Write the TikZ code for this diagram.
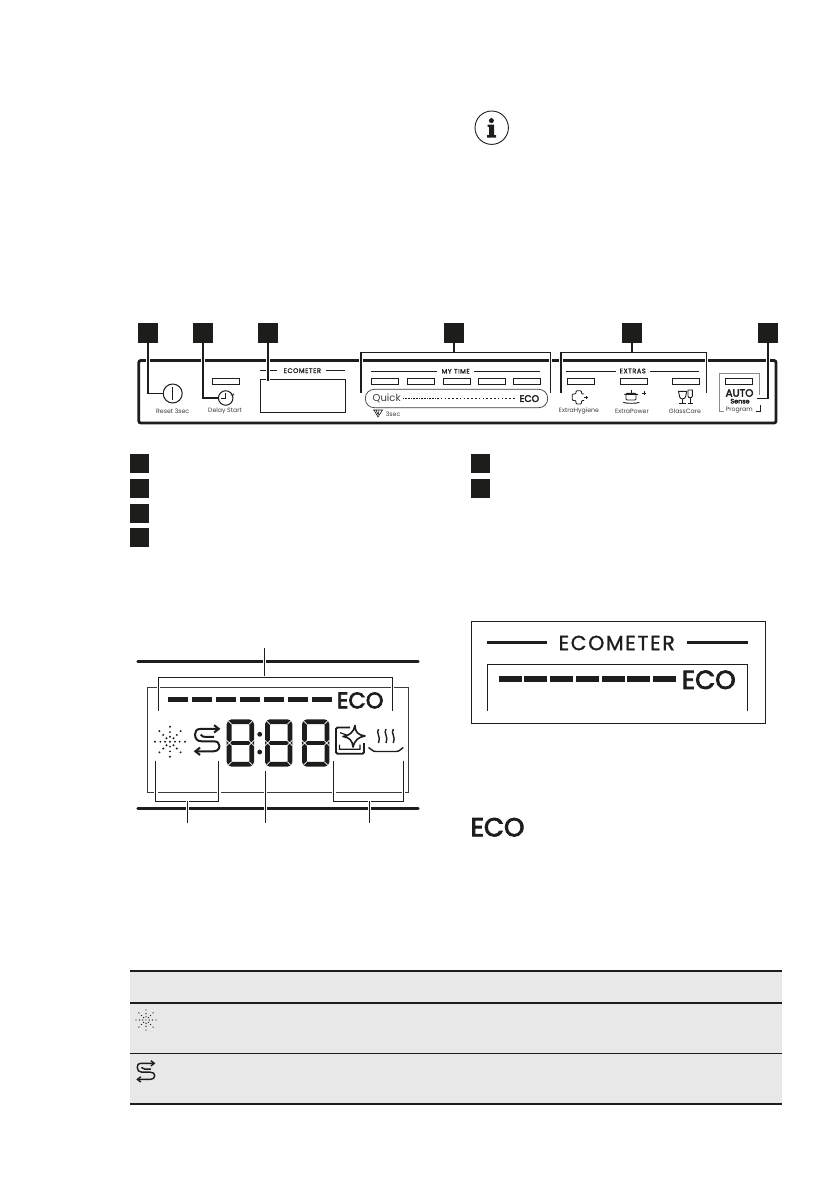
\documentclass[tikz,border=0pt]{standalone}
\usepackage{fontspec}
\setmainfont{Poppins}
\newfontfamily\spaced[LetterSpace=8,FakeBold=1.2]{Poppins}
\newfontfamily\ecofam[FakeBold=3.2]{Poppins}
\usetikzlibrary{arrows.meta,calc}
\definecolor{ink}{HTML}{1D1D1B}
\definecolor{soft}{HTML}{3C3C38}
\definecolor{band}{HTML}{E8E8E8}
\tikzset{
  numsq/.style={draw=none,fill=ink,minimum width=20pt,minimum height=20pt,inner sep=0pt},
  legsq/.style={draw=none,fill=ink,minimum width=19pt,minimum height=19pt,inner sep=0pt},
  leader/.style={draw=ink,line width=1.05pt,preaction={draw=white,line width=3.6pt}},
  led/.style={draw=ink,line width=1pt,minimum width=27.4pt,minimum height=6pt,inner sep=0pt},
  smalltxt/.style={inner sep=0pt,text=soft,font=\fontsize{6.2}{7}\selectfont},
  caplabel/.style={inner sep=0pt,text=ink,font=\fontsize{6.6}{8}\spaced},
  hair/.style={draw=ink,line width=.9pt},
  rulea/.style={draw=ink,line width=1.7pt},
  ruleb/.style={draw=ink,line width=2.6pt,line cap=round},
  eco/.style={inner sep=0pt,text=ink},
}
% snow icon: centre, radius
\newcommand{\snowicon}[3]{%
  \fill[ink] (#1,#2) circle[radius=#3*.07];
  \foreach \a in {0,45,...,315}{
    \foreach \f/\s in {.33/.07,.64/.07,1/.07}{
      \fill[ink] ($(#1,#2)+(\a:#3*\f)$) circle[radius=#3*\s];
    }
  }
}
% S icon on a 78 by 85 grid
\newcommand{\sicon}[3]{%
  \begin{scope}[shift={(#1,#2)},scale=#3]
    \draw[ink,line width=#3*6pt,line join=round] (72,13) -- (20,13)
      .. controls (6,13) and (3,22) .. (3,30) .. controls (3,42) and (10,50) .. (22,50)
      -- (58,50) .. controls (70,50) and (76,56) .. (76,64) .. controls (76,74) and (68,80) .. (58,80) -- (6,80);
    \draw[ink,line width=#3*6pt] (20,30) .. controls (24,36) and (28,37) .. (34,37) -- (60,37);
    \draw[ink,line width=#3*6pt] (60,2) -- (74,13) -- (60,24);
    \draw[ink,line width=#3*6pt] (18,69) -- (4,80) -- (18,91);
  \end{scope}
}
% seven segment digit
\newcommand{\segdigit}[2]{%
  \begin{scope}[shift={(#1,#2)}]
    \draw[ink,line width=4.8pt,rounded corners=3pt] (2.4,2.4) rectangle (25,45);
    \draw[ink,line width=3.2pt] (2.4,23.7) -- (25,23.7);
    \draw[white,line width=.7pt] (0,0) -- (5,5) (27.4,0) -- (22.4,5) (0,47.4) -- (5,42.4) (27.4,47.4) -- (22.4,42.4);
    \draw[white,line width=.7pt] (0,21) -- (5,26) (0,26.4) -- (5,21.4) (27.4,21) -- (22.4,26) (27.4,26.4) -- (22.4,21.4);
  \end{scope}
}
\begin{document}
\begin{tikzpicture}[x=1pt,y=-1pt]
\useasboundingbox (0,0) rectangle (839,1191);

% info mark
\node[circle,draw=ink,line width=.9pt,minimum size=33.4pt,inner sep=0pt] (info) at (491.7,127.7) {};
\fill[ink] (491.4,120.6) circle[radius=2.5];
\fill[ink] (487.5,124.6) -- (494,124.6) -- (494,135) -- (496,135) -- (496,137.6) -- (487,137.6) -- (487,135) -- (489.2,135) -- (489.2,126.8) -- (487.5,126.8) -- cycle;

% ---------- control panel ----------
\draw[draw=ink,line width=2.8pt,rounded corners=2pt] (138.8,360.5) rectangle (776,423);

\node[circle,draw=ink,line width=1pt,minimum size=19pt,inner sep=0pt] (power) at (172.7,393.5) {};
\draw[ink,line width=.9pt] (172.7,387) -- (172.7,400);
\node[circle,draw=ink,line width=1pt,minimum size=14.5pt,inner sep=0pt] (clock) at (225.7,398) {};
\draw[ink,line width=.8pt] (225.5,393) -- (225.5,398.4) -- (221,398.4);
\draw[ink,line width=.7pt] (231,393.6) -- (232.5,396) -- (234,393.6);
\node[led] (ledD) at (226,381.3) {};
\node[smalltxt] (tReset) at (172.7,411.3) {Reset 3sec};
\node[smalltxt] (tDelay) at (225,411.3) {Delay Start};

% ecometer block
\node[draw=ink,line width=1pt,minimum width=85.4pt,minimum height=33pt,inner sep=0pt] (ecobox) at (303,395.8) {};
\node[caplabel] (tEco) at (302.3,370.7) {ECOMETER};
\coordinate (e1) at (260,370.7); \coordinate (e2) at (276.7,370.7);
\coordinate (e3) at (326.3,370.7); \coordinate (e4) at (345,370.7);
\draw[hair] (e1) -- (e2) (e3) -- (e4);

% my time
\node[caplabel] (tMy) at (455.7,371.3) {MY TIME};
\coordinate (m1) at (371,371.3); \coordinate (m2) at (436.7,371.3);
\coordinate (m3) at (474,371.3); \coordinate (m4) at (540,371.3);
\draw[hair] (m1) -- (m2) (m3) -- (m4);
\node[led] (ledA) at (385,381.3) {};
\node[led] (ledB) at (421,381.3) {};
\node[led] (ledC) at (457,381.3) {};
\node[led] (ledE) at (492,381.3) {};
\node[led] (ledF) at (527,381.3) {};
\draw[draw=soft,line width=.7pt,rounded corners=9pt] (365.3,389.3) rectangle (547.7,407.7);
\node[eco,anchor=west,font=\fontsize{10}{12}\selectfont,text=soft] (tQuick) at (372.5,398.6) {Quick};
\coordinate (d1) at (403,398.4); \coordinate (d2) at (437,398.4); \coordinate (d3) at (515,398.4);
\draw[ink,line width=.6pt,dash pattern=on .8pt off .8pt] (d1) -- (d2);
\draw[ink,line width=1.3pt,dash pattern=on 1.6pt off 2.2pt] (d2) -- (d3);
\node[eco,anchor=east,font=\fontsize{9.4}{10}\ecofam] (tEcoS) at (539.3,398.6) {ECO};
\node[smalltxt,anchor=west] (t3s) at (385.6,413.8) {3sec};
\draw[ink,line width=.6pt] (373,410) -- (383,410) (374,410) -- (378,417) -- (382.5,410) (376,410) -- (378,414.5) (379,410) -- (378.4,414.5);

% extras
\node[caplabel] (tExt) at (632.7,371) {EXTRAS};
\coordinate (x1) at (566,371); \coordinate (x2) at (616,371);
\coordinate (x3) at (650,371); \coordinate (x4) at (699,371);
\draw[hair] (x1) -- (x2) (x3) -- (x4);
\node[led] (ledG) at (581,381.3) {};
\node[led] (ledH) at (634,381.3) {};
\node[led] (ledI) at (686,381.3) {};
\node[smalltxt] (tHyg) at (579,411.3) {ExtraHygiene};
\node[smalltxt] (tPow) at (632,411.3) {ExtraPower};
\node[smalltxt] (tGla) at (685,411.3) {GlassCare};
% hygiene cross
\draw[ink,line width=.8pt,rounded corners=1pt] (584,400.5) -- (581.5,400.5) -- (581.5,404) -- (576,404) -- (576,400.5) -- (572.3,400.5) -- (572.3,394) -- (576,394) -- (576,390.7) -- (581.5,390.7) -- (581.5,394) -- (584,394);
\draw[ink,line width=.9pt] (584.3,397.3) -- (587.7,397.3) (586,395.6) -- (586,399);
% pot
\draw[ink,line width=.9pt,rounded corners=1pt] (626,393.3) rectangle (636,400);
\draw[ink,line width=.9pt] (624.3,394.3) -- (638,394.3) (631.5,390) -- (631.5,393) (623.3,402.4) .. controls (626,403.6) and (637,403.6) .. (639.3,402.4);
\draw[ink,line width=1pt] (641.8,393) -- (646.2,393) (644,390.8) -- (644,395.2);
% glasses
\draw[ink,line width=.9pt] (678.5,391.4) -- (686.7,391.4) -- (685.5,397) .. controls (684.8,399.5) and (680.4,399.5) .. (679.7,397) -- cycle;
\draw[ink,line width=.9pt] (682.6,399) -- (682.6,403.8) (679,403.8) -- (686.3,403.8);
\draw[ink,line width=.9pt] (688,390) -- (692.3,390) -- (692.3,396) .. controls (692.3,398.4) and (688,398.4) .. (688,396) -- cycle;
\draw[ink,line width=.9pt] (690.2,398) -- (690.2,403.8) (688,403.8) -- (692.5,403.8);

% auto block
\draw[draw=soft!60,line width=1pt] (723.5,411.7) -- (719.7,411.7) -- (719.7,373.3) -- (759.3,373.3) -- (759.3,395);
\draw[ink,line width=.8pt] (755.5,411.7) -- (760,411.7) -- (760,405);
\node[led] (ledJ) at (739,381.3) {};
\node[eco,font=\fontsize{10.4}{11}\ecofam] (tAuto) at (739.5,393) {AUTO};
\node[eco,font=\fontsize{6.4}{7}\ecofam] (tSense) at (740,401.2) {Sense};
\node[smalltxt] (tProg) at (739.3,409.8) {Program};

% leaders
\node[numsq] (n1) at (148,333) {};
\node[numsq] (n2) at (203,333) {};
\node[numsq] (n3) at (268,333) {};
\node[numsq] (n4) at (454,333) {};
\node[numsq] (n5) at (632,333) {};
\node[numsq] (n6) at (768,333) {};
\coordinate (c3) at (268,381);
\coordinate (b4l) at (361,392.7); \coordinate (b4r) at (550.3,392.7); \coordinate (t4) at (454,352.3);
\coordinate (b5l) at (561,392.7); \coordinate (b5r) at (706.3,392.7); \coordinate (t5) at (632,352.3);
\coordinate (c6) at (768,398.3); \coordinate (c6e) at (757,398.3);
\draw[leader] (n1.south) |- (power.west);
\draw[leader] (n2.south) |- (clock.west);
\draw[leader] (n3.south) -- (c3);
\draw[leader] (b4l) |- (t4) -| (b4r);
\draw[leader] (n4.south) -- (t4);
\draw[leader] (b5l) |- (t5) -| (b5r);
\draw[leader] (n5.south) -- (t5);
\draw[leader] (n6.south) -- (c6) -- (c6e);

% legend squares
\node[legsq] (l1) at (139.5,463.5) {};
\node[legsq] (l2) at (139.5,488.5) {};
\node[legsq] (l3) at (139.5,513) {};
\node[legsq] (l4) at (139.5,537.5) {};
\node[legsq] (r1) at (480,463.5) {};
\node[legsq] (r2) at (480,488.5) {};

% ---------- display, left ----------
\coordinate (tl) at (137.7,661.3); \coordinate (tr) at (418.3,661.3);
\coordinate (bl) at (137.7,808.3); \coordinate (br) at (418.3,808.3);
\draw[ruleb] (tl) -- (tr);
\draw[ruleb] (bl) -- (br);
\node[draw=soft,line width=.7pt,minimum width=261pt,minimum height=105pt,inner sep=0pt] (frame) at (277.8,739.8) {};
\foreach \x in {0,24,48,72,96,120,144}{
  \fill[ink] (168+\x,697.3) rectangle +(20.3,4.7);
}
\node[eco,font=\fontsize{22.5}{24}\ecofam,anchor=center] (ecoA) at (360.2,700.4) {ECO};
\snowicon{170}{741.7}{15}
\sicon{194}{724.5}{.335}
\segdigit{226.7}{719.3}
\segdigit{265}{719.3}
\segdigit{302}{719.3}
\fill[ink] (259.7,734.3) circle[radius=2.4];
\fill[ink] (259.7,752) circle[radius=2.4];
% dishes icon
\draw[ink,line width=1.9pt,rounded corners=1.5pt] (350,727.5) -- (336,727.5) -- (336,753.7) -- (364,753.7) -- (364,743);
\draw[ink,line width=1.2pt] (340,732.7) -- (348,735.5) (339.5,744.7) -- (339.5,749.3) -- (360,749.3) -- (360,744.7);
\draw[ink,line width=1.6pt,line join=round] (355,725.5) .. controls (355,732) and (358,735) .. (365,736) .. controls (358,737.2) and (355,740) .. (353,747) .. controls (352.5,740.5) and (349.5,737.5) .. (343,736.5) .. controls (349.5,735.5) and (353.5,732.5) .. (355,725.5) -- cycle;
% steam and plate
\foreach \x in {378.5,386,393.3}{
  \draw[ink,line width=1.4pt] (\x,729) .. controls (\x-3,733) and (\x+3,737) .. (\x,743);
}
\draw[ink,line width=1.4pt] (368.5,747.5) .. controls (372,749) and (372,751.5) .. (376,751.5) -- (396,751.5) .. controls (400,751.5) and (400,749) .. (403.3,747.5);

\coordinate (p0) at (264.3,648.3); \coordinate (p1) at (264.3,677.3);
\coordinate (p2) at (158.3,710.7); \coordinate (p3) at (392.3,710.7);
\draw[leader] (p0) -- (p1);
\draw[leader] (p2) |- (p1) -| (p3);
\coordinate (q1) at (155.7,760.7); \coordinate (q2) at (218.7,760.7);
\coordinate (q3) at (187.3,801.3); \coordinate (q4) at (187.3,822.7);
\draw[leader] (q1) |- (q3) -| (q2);
\draw[leader] (q3) -- (q4);
\coordinate (u1) at (265.3,771); \coordinate (u2) at (265.3,822.7);
\draw[leader] (u1) -- (u2);
\coordinate (v1) at (333.7,760.7); \coordinate (v2) at (403.3,760.7);
\coordinate (v3) at (369.3,801.3); \coordinate (v4) at (369.3,822.7);
\draw[leader] (v1) |- (v3) -| (v2);
\draw[leader] (v3) -- (v4);

% ---------- ecometer detail, right ----------
\node[draw=ink,line width=1pt,minimum width=294pt,minimum height=101.6pt,inner sep=0pt] (meter) at (618.3,672.5) {};
\node[inner sep=0pt,text=ink,font=\fontsize{20.5}{22}\spaced] (tMeter) at (616.7,643) {ECOMETER};
\coordinate (g1) at (487,642.3); \coordinate (g2) at (546.7,642.3);
\coordinate (g3) at (687.3,642.3); \coordinate (g4) at (747.7,642.3);
\draw[ink,line width=2.5pt] (g1) -- (g2) (g3) -- (g4);
\coordinate (h1) at (487.3,710.7); \coordinate (h2) at (487.3,664.3);
\coordinate (h3) at (747.3,664.3); \coordinate (h4) at (747.3,710.7);
\draw[ink,line width=.9pt] (h1) -- (h2) -- (h3) -- (h4);
\foreach \x in {499,524,550,576,602,627,653}{
  \fill[ink] (\x,676.3) rectangle +(22.6,5.7);
}
\node[eco,font=\fontsize{26}{28}\ecofam] (ecoB) at (708.7,679.8) {ECO};
\node[eco,font=\fontsize{26}{28}\ecofam] (ecoC) at (497.5,827.2) {ECO};

% ---------- table ----------
\fill[band] (130,970.7) rectangle (782,1104);
\coordinate (k1) at (130,970.7); \coordinate (k2) at (782,970.7);
\coordinate (k3) at (130,1002.7); \coordinate (k4) at (782,1002.7);
\coordinate (k5) at (130,1053.3); \coordinate (k6) at (782,1053.3);
\coordinate (k7) at (130,1104); \coordinate (k8) at (782,1104);
\draw[rulea] (k1) -- (k2);
\draw[rulea] (k3) -- (k4);
\draw[ink,line width=.9pt] (k5) -- (k6);
\draw[rulea] (k7) -- (k8);
\snowicon{146}{1020}{10}
\sicon{136.5}{1060.2}{.24}
\end{tikzpicture}
\end{document}
